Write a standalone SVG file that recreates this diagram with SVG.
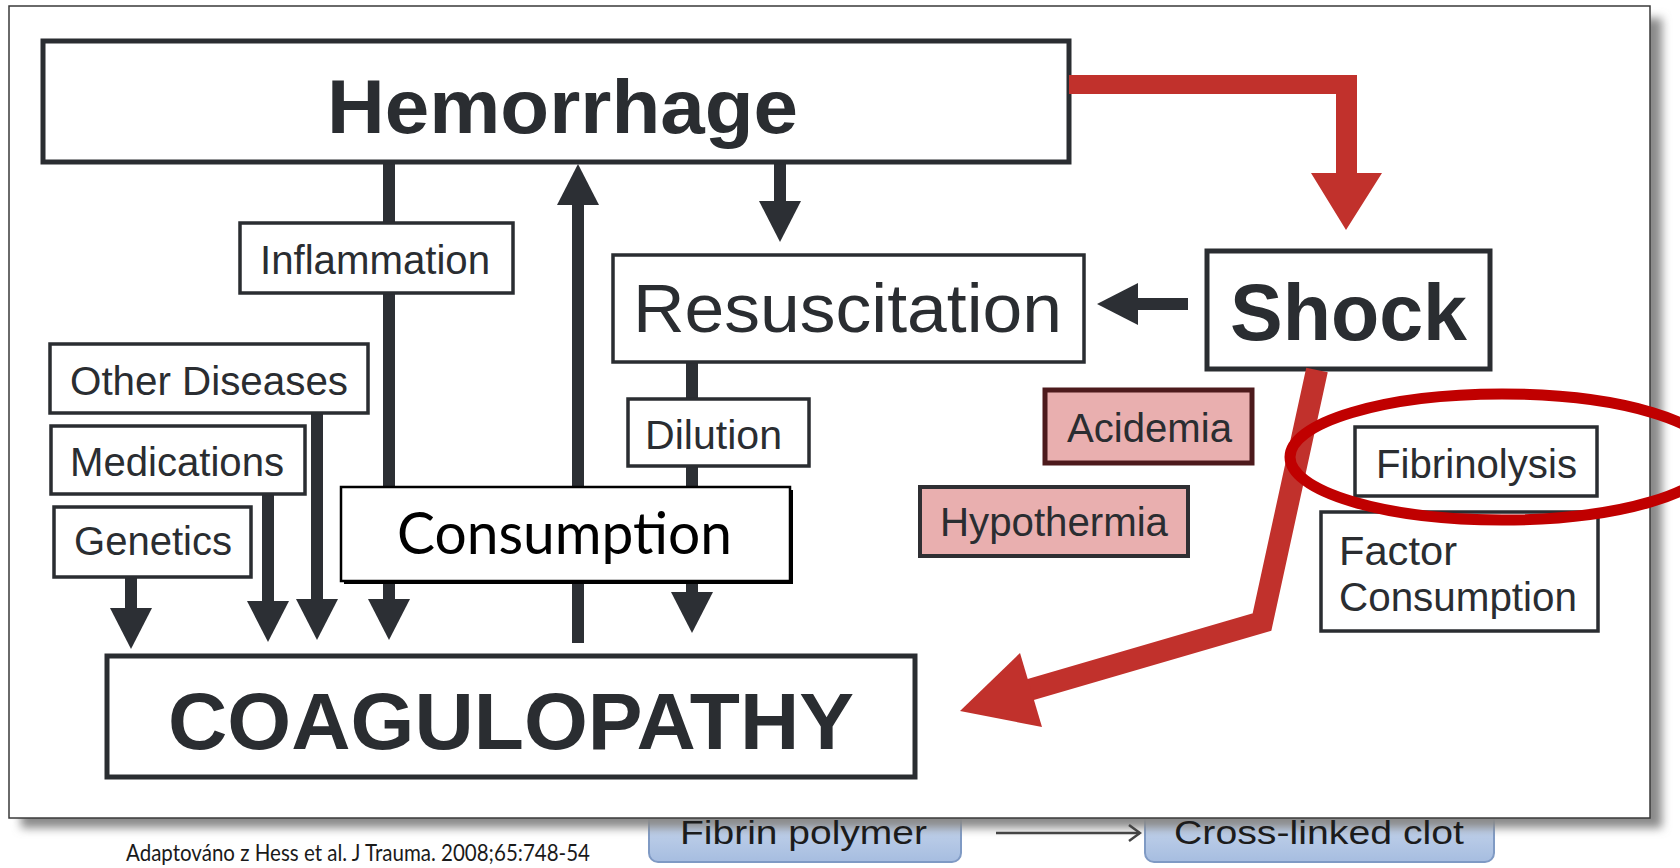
<svg xmlns="http://www.w3.org/2000/svg" width="1680" height="868" viewBox="0 0 1680 868">
  <style>
    .box { fill: #ffffff; stroke: #2a2d31; stroke-width: 3.5; }
    .big { stroke-width: 5; }
    .pink { fill: #e9afaf; stroke: #2f2f33; stroke-width: 4; }
    .lbl { font-family: "Liberation Sans", Arial, sans-serif; font-size: 40px; fill: #2a2d31; }
    .bold { font-weight: bold; }
    .s68 { font-size: 68px; }
    .s74 { font-size: 76px; }
    .s80 { font-size: 80px; }
    .wire { stroke: #2c2f34; stroke-width: 12; fill: none; }
    .red { fill: #c1312c; }
    .back { font-family: "Liberation Sans", Arial, sans-serif; font-size: 33px; fill: #1c1c1c; }
    .calibri { font-family: Lato, "Open Sans", sans-serif; }
  </style>
  <defs>
    <marker id="head" markerUnits="userSpaceOnUse" markerWidth="44" markerHeight="46" viewBox="0 -23 44 46" refX="1" refY="0" orient="auto">
      <path d="M0,-21 L41,0 L0,21 Z" fill="#2c2f34"/>
    </marker>
    <marker id="thin" markerUnits="userSpaceOnUse" markerWidth="14" markerHeight="20" viewBox="0 -10 14 20" refX="12" refY="0" orient="auto">
      <path d="M1,-8 L12,0 L1,8" fill="none" stroke="#444" stroke-width="2.5"/>
    </marker>
    <linearGradient id="blue" x1="0" y1="0" x2="0" y2="1">
      <stop offset="0" stop-color="#dfe8f5"/>
      <stop offset="1" stop-color="#a6bde0"/>
    </linearGradient>
    <filter id="blur" x="-5%" y="-5%" width="110%" height="110%">
      <feGaussianBlur stdDeviation="5"/>
    </filter>
  </defs>

  <rect width="1680" height="868" fill="#ffffff"/>

  <!-- slide content lying underneath the figure panel -->
  <g id="underlay-boxes">
    <rect x="649" y="785" width="312" height="77" rx="9" fill="url(#blue)" stroke="#7f9ac4" stroke-width="2"/>
    <rect x="1145" y="785" width="349" height="77" rx="9" fill="url(#blue)" stroke="#7f9ac4" stroke-width="2"/>
  </g>

  <!-- panel drop shadow -->
  <rect id="panel-shadow" x="21" y="18" width="1641" height="810" fill="#8a8a8a" filter="url(#blur)"/>

  <g id="underlay-text">
    <text class="back" x="680" y="844" textLength="247" lengthAdjust="spacingAndGlyphs">Fibrin polymer</text>
    <line x1="996" y1="833" x2="1140" y2="833" stroke="#444" stroke-width="2.5" marker-end="url(#thin)"/>
    <text class="back" x="1174" y="844" textLength="290" lengthAdjust="spacingAndGlyphs">Cross-linked clot</text>
  </g>

  <!-- figure panel -->
  <rect id="panel" x="9" y="6" width="1641" height="812" fill="#ffffff" stroke="#3a3a3a" stroke-width="1.5"/>

  <!-- dark connectors -->
  <g id="connectors">
    <line class="wire" x1="389" y1="161" x2="389" y2="224"/>
    <line class="wire" x1="389" y1="292" x2="389" y2="600" marker-end="url(#head)"/>
    <line class="wire" x1="317" y1="412" x2="317" y2="600" marker-end="url(#head)"/>
    <line class="wire" x1="268" y1="493" x2="268" y2="602" marker-end="url(#head)"/>
    <line class="wire" x1="131" y1="576" x2="131" y2="609" marker-end="url(#head)"/>
    <line class="wire" x1="578" y1="643" x2="578" y2="204" marker-end="url(#head)"/>
    <line class="wire" x1="780" y1="161" x2="780" y2="202" marker-end="url(#head)"/>
    <line class="wire" x1="692" y1="361" x2="692" y2="400"/>
    <line class="wire" x1="692" y1="465" x2="692" y2="593" marker-end="url(#head)"/>
    <line class="wire" x1="1188" y1="304" x2="1137" y2="304" marker-end="url(#head)"/>
  </g>

  <g id="hemorrhage">
    <rect class="box big" x="43" y="41" width="1026" height="121"/>
    <text class="lbl bold s74" x="327" y="133" textLength="471" lengthAdjust="spacingAndGlyphs">Hemorrhage</text>
  </g>

  <g id="inflammation">
    <rect class="box" x="240" y="223" width="273" height="70"/>
    <text class="lbl" x="260" y="274" textLength="230" lengthAdjust="spacingAndGlyphs">Inflammation</text>
  </g>

  <g id="resuscitation">
    <rect class="box" x="613" y="255" width="471" height="107"/>
    <text class="lbl s68" x="633" y="332" textLength="429" lengthAdjust="spacingAndGlyphs">Resuscitation</text>
  </g>

  <g id="shock">
    <rect class="box big" x="1207" y="251" width="283" height="118"/>
    <text class="lbl bold s80" x="1230" y="340" textLength="237" lengthAdjust="spacingAndGlyphs">Shock</text>
  </g>

  <g id="other-diseases">
    <rect class="box" x="50" y="344" width="318" height="69"/>
    <text class="lbl" x="70" y="395" textLength="278" lengthAdjust="spacingAndGlyphs">Other Diseases</text>
  </g>

  <g id="medications">
    <rect class="box" x="51" y="426" width="254" height="68"/>
    <text class="lbl" x="70" y="476" textLength="214" lengthAdjust="spacingAndGlyphs">Medications</text>
  </g>

  <g id="genetics">
    <rect class="box" x="54" y="507" width="197" height="70"/>
    <text class="lbl" x="74" y="555" textLength="158" lengthAdjust="spacingAndGlyphs">Genetics</text>
  </g>

  <g id="dilution">
    <rect class="box" x="628" y="399" width="181" height="67"/>
    <text class="lbl" x="645" y="449" textLength="137" lengthAdjust="spacingAndGlyphs">Dilution</text>
  </g>

  <g id="consumption">
    <rect x="344" y="490" width="449" height="94" fill="#000000"/>
    <rect x="341" y="487" width="449" height="94" fill="#ffffff" stroke="#000000" stroke-width="2.5"/>
    <text class="calibri" x="397" y="554" font-size="58" fill="#000000" textLength="335" lengthAdjust="spacingAndGlyphs">Consumption</text>
  </g>

  <g id="acidemia">
    <rect x="1045" y="390" width="207" height="73" fill="#e9afaf" stroke="#4d1a1c" stroke-width="5"/>
    <text class="lbl" x="1067" y="442" fill="#5a1f22" textLength="165" lengthAdjust="spacingAndGlyphs">Acidemia</text>
  </g>

  <g id="hypothermia">
    <rect class="pink" x="920" y="487" width="268" height="69"/>
    <text class="lbl" x="940" y="536" fill="#4a2326" textLength="228" lengthAdjust="spacingAndGlyphs">Hypothermia</text>
  </g>

  <g id="fibrinolysis">
    <rect class="box" x="1355" y="427" width="242" height="69"/>
    <text class="lbl" x="1376" y="478" textLength="201" lengthAdjust="spacingAndGlyphs">Fibrinolysis</text>
  </g>

  <g id="factor-consumption">
    <rect class="box" x="1321" y="512" width="277" height="119"/>
    <text class="lbl" x="1339" y="565" textLength="118" lengthAdjust="spacingAndGlyphs">Factor</text>
    <text class="lbl" x="1339" y="611" textLength="238" lengthAdjust="spacingAndGlyphs">Consumption</text>
  </g>

  <g id="coagulopathy">
    <rect class="box big" x="107" y="656" width="808" height="121"/>
    <text class="lbl bold s80" x="168" y="749" textLength="686" lengthAdjust="spacingAndGlyphs">COAGULOPATHY</text>
  </g>

  <!-- red pathway arrows -->
  <g id="red-arrows">
    <path class="red" d="M1069,75 H1357 V173 H1382 L1346,230 L1311,173 H1336 V94 H1069 Z"/>
    <polyline points="1317,370 1262,622 1029,690" fill="none" stroke="#c1312c" stroke-width="22" stroke-linejoin="miter"/>
    <polygon class="red" points="960,711 1042,727 1020,653"/>
  </g>

  <!-- highlight ring -->
  <g id="highlight">
    <ellipse cx="1502" cy="457" rx="212" ry="63" fill="none" stroke="#c00000" stroke-width="11"/>
  </g>

  <g id="citation">
    <text class="calibri" x="126" y="861" font-size="24" fill="#1a1a1a" textLength="464" lengthAdjust="spacingAndGlyphs">Adaptováno z Hess et al. J Trauma. 2008;65:748-54</text>
  </g>
</svg>
